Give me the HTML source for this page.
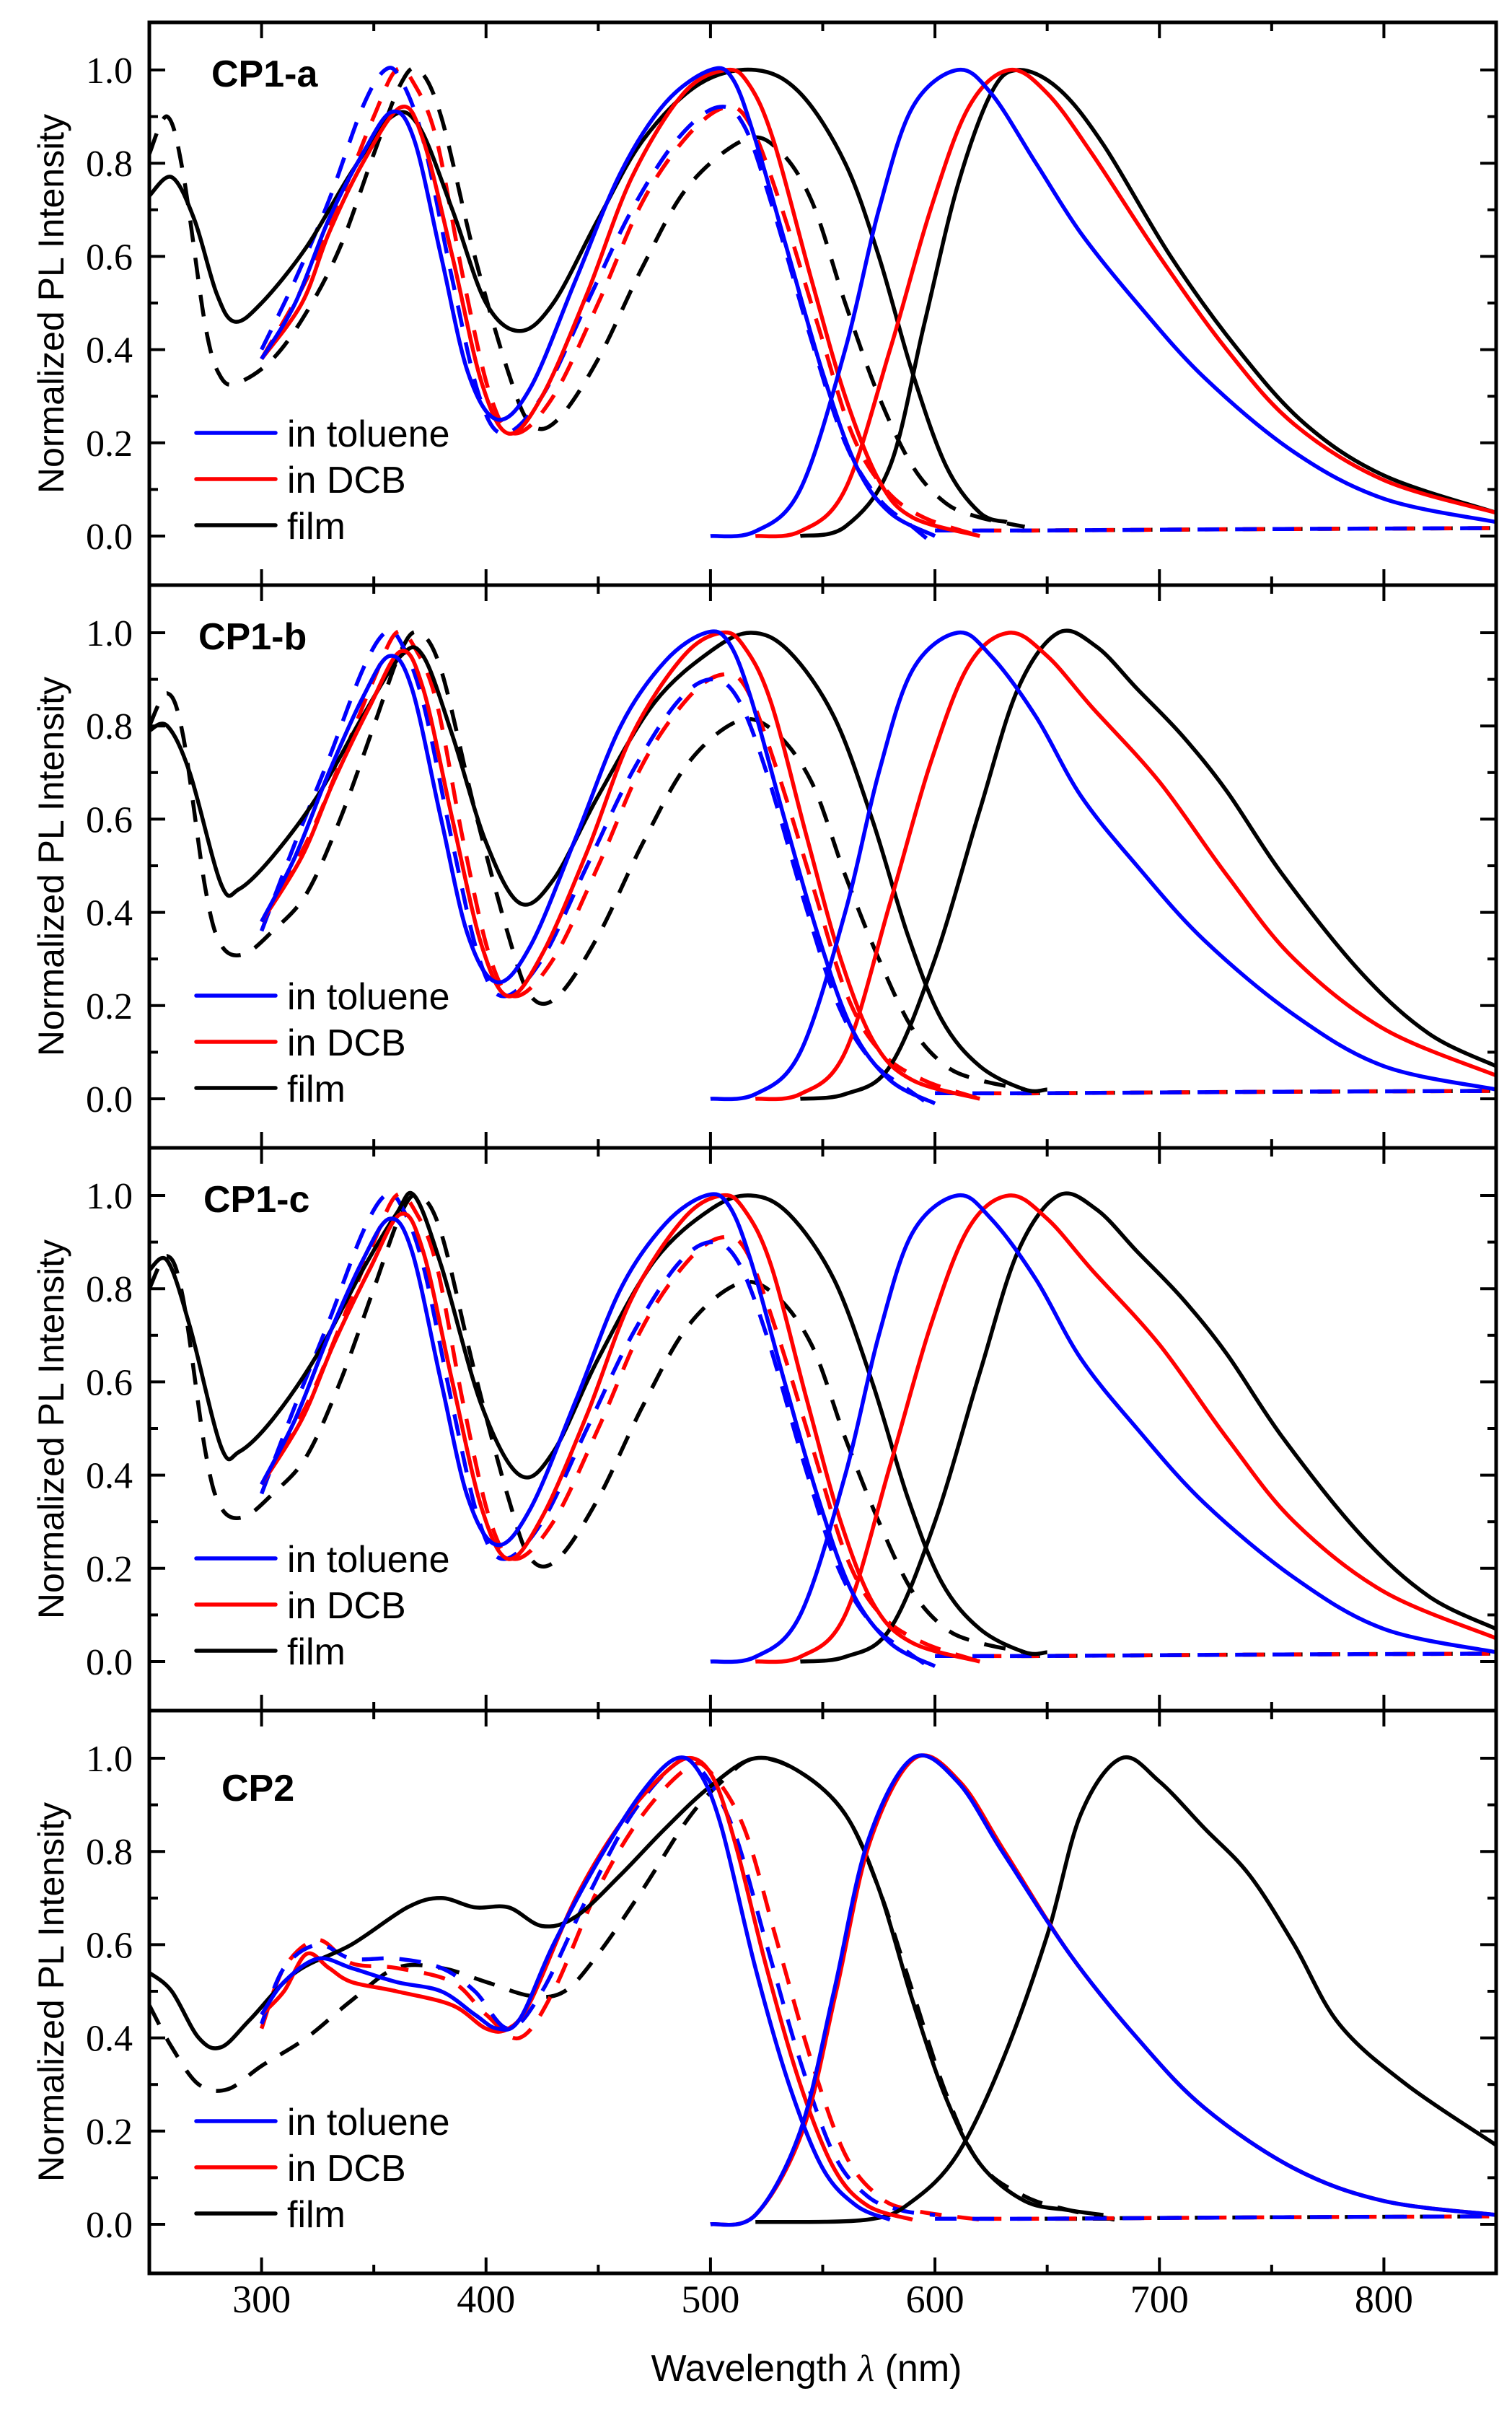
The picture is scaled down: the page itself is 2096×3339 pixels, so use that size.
<!DOCTYPE html>
<html><head><meta charset="utf-8"><style>
html,body{margin:0;padding:0;background:#fff;}
svg{display:block;}
</style></head><body>
<svg id="s" width="2096" height="3339" xmlns="http://www.w3.org/2000/svg"></svg>
<script>
const S=document.getElementById('s');
const L=207,R=2074,T0=31,PH=780;
const X=l=>L+(l-250)*(R-L)/600;
function pth(pts,top){const p=pts.map(a=>[X(a[0]),top+712-646*a[1]]);
 let d='M'+p[0][0].toFixed(1)+' '+p[0][1].toFixed(1);
 for(let i=0;i<p.length-1;i++){const a=p[i-1]||p[i],b=p[i],c=p[i+1],e=p[i+2]||c;
  d+=' C'+(b[0]+(c[0]-a[0])/6).toFixed(1)+' '+(b[1]+(c[1]-a[1])/6).toFixed(1)+' '+(c[0]-(e[0]-b[0])/6).toFixed(1)+' '+(c[1]-(e[1]-b[1])/6).toFixed(1)+' '+c[0].toFixed(1)+' '+c[1].toFixed(1);}
 return d;}
let h='';
const col={b:'#0000ff',r:'#ff0000',k:'#000000'};
function line(pts,top,c,dash,clip){h+=`<path d="${pth(pts,top)}" fill="none" stroke="${col[c]}" stroke-width="5.5" ${dash?'stroke-dasharray="30 22"':''} clip-path="url(#${clip})" stroke-linejoin="round"/>`;}
const tail=(s,v)=>[[s,v],[650,v],[750,v+0.003],[850,v+0.005]];
const panels=[
{name:'CP1-a',ly:89,lx:293,
 abs:{b:[[300,0.38],[315,0.5],[330,0.68],[345,0.82],[358,0.91],[368,0.85],[380,0.6],[392,0.35],[405,0.25],[420,0.32],[440,0.55],[460,0.78],[480,0.93],[500,1.0],[510,0.98],[520,0.85],[535,0.6],[550,0.35],[565,0.15],[580,0.05],[600,0.0]],
  r:[[300,0.38],[318,0.5],[330,0.65],[345,0.8],[362,0.92],[372,0.85],[385,0.6],[398,0.33],[410,0.22],[425,0.3],[445,0.52],[465,0.77],[488,0.95],[507,1.0],[517,0.97],[528,0.85],[545,0.55],[560,0.3],[575,0.12],[590,0.04],[620,0.0]],
  k:[[250,0.73],[260,0.77],[270,0.68],[280,0.52],[288,0.46],[300,0.5],[320,0.62],[340,0.78],[358,0.9],[370,0.88],[385,0.7],[400,0.5],[415,0.44],[430,0.5],[450,0.68],[470,0.85],[495,0.97],[520,1.0],[540,0.95],[560,0.8],[575,0.6],[590,0.35],[605,0.15],[620,0.05],[632,0.03]]},
 dsh:{b:[[300,0.4],[315,0.55],[330,0.72],[345,0.92],[355,1.0],[362,0.98],[372,0.85],[385,0.55],[397,0.3],[408,0.22],[425,0.3],[445,0.5],[465,0.7],[485,0.85],[503,0.92],[515,0.88],[528,0.7],[545,0.42],[560,0.2],[575,0.08],[590,0.02],[600,-0.02]],
  r:[[300,0.38],[320,0.55],[335,0.72],[350,0.9],[360,1.0],[368,0.97],[378,0.85],[390,0.55],[402,0.3],[413,0.22],[430,0.3],[450,0.5],[470,0.72],[490,0.86],[507,0.92],[518,0.88],[532,0.7],[548,0.45],[563,0.22],[578,0.1],[595,0.04],[620,0.0]],
  k:[[250,0.82],[258,0.9],[265,0.78],[275,0.45],[282,0.34],[290,0.33],[305,0.38],[320,0.48],[335,0.62],[350,0.82],[362,0.97],[370,1.0],[380,0.9],[395,0.6],[410,0.35],[420,0.24],[432,0.25],[450,0.38],[470,0.58],[490,0.75],[515,0.85],[530,0.83],[545,0.72],[560,0.5],[575,0.3],[590,0.15],[605,0.07],[620,0.04],[640,0.02]]},
 em:{b:[[500,0],[520,0.01],[540,0.1],[560,0.4],[575,0.7],[590,0.92],[610,1.0],[625,0.95],[645,0.8],[665,0.65],[690,0.5],[720,0.34],[760,0.18],[800,0.08],[850,0.03]],
  r:[[520,0],[540,0.01],[560,0.1],[580,0.4],[598,0.7],[615,0.92],[633,1.0],[650,0.95],[670,0.82],[700,0.6],[730,0.4],[760,0.24],[800,0.12],[850,0.05]],
  k:[[540,0],[560,0.02],[580,0.15],[595,0.45],[610,0.75],[625,0.95],[637,1.0],[655,0.96],[675,0.84],[705,0.6],[735,0.4],[765,0.24],[800,0.13],[850,0.05]]}},
{name:'CP1-b',ly:89,lx:275,
 abs:{b:[[300,0.38],[315,0.52],[330,0.7],[345,0.86],[357,0.95],[367,0.88],[380,0.6],[392,0.35],[405,0.25],[420,0.33],[440,0.56],[460,0.8],[480,0.94],[498,1.0],[508,0.98],[518,0.86],[533,0.6],[548,0.35],[563,0.15],[580,0.04],[600,-0.01]],
  r:[[300,0.38],[318,0.52],[332,0.68],[348,0.84],[362,0.96],[372,0.88],[385,0.6],[398,0.33],[410,0.22],[425,0.31],[445,0.53],[465,0.78],[488,0.95],[505,1.0],[515,0.97],[527,0.85],[543,0.56],[558,0.3],[573,0.12],[590,0.04],[620,0.0]],
  k:[[250,0.79],[258,0.8],[268,0.7],[282,0.46],[290,0.45],[305,0.52],[325,0.65],[345,0.82],[362,0.95],[372,0.95],[385,0.78],[400,0.55],[415,0.42],[430,0.47],[450,0.65],[475,0.85],[500,0.96],[518,1.0],[535,0.96],[555,0.82],[572,0.6],[588,0.35],[603,0.17],[620,0.07],[640,0.02],[650,0.02]]},
 dsh:{b:[[300,0.36],[315,0.55],[330,0.73],[345,0.92],[355,1.0],[362,0.98],[372,0.85],[385,0.55],[397,0.3],[408,0.22],[425,0.3],[445,0.5],[465,0.7],[485,0.85],[500,0.9],[512,0.86],[525,0.7],[542,0.42],[557,0.2],[572,0.08],[588,0.02],[600,-0.02]],
  r:[[300,0.38],[320,0.55],[335,0.72],[350,0.9],[360,1.0],[368,0.97],[378,0.85],[390,0.55],[402,0.3],[413,0.22],[430,0.3],[450,0.5],[470,0.72],[490,0.86],[505,0.91],[516,0.88],[530,0.7],[546,0.45],[561,0.22],[576,0.1],[595,0.04],[620,0.0]],
  k:[[250,0.8],[258,0.87],[265,0.78],[275,0.45],[282,0.33],[292,0.31],[305,0.36],[320,0.44],[335,0.6],[350,0.8],[362,0.96],[370,1.0],[380,0.92],[395,0.62],[410,0.35],[420,0.22],[432,0.22],[450,0.35],[470,0.55],[490,0.72],[512,0.81],[528,0.79],[545,0.68],[560,0.48],[575,0.3],[590,0.15],[605,0.07],[620,0.04],[640,0.02]]},
 em:{b:[[500,0],[520,0.01],[540,0.1],[560,0.4],[575,0.7],[590,0.92],[610,1.0],[625,0.95],[645,0.82],[665,0.65],[690,0.5],[720,0.34],[760,0.18],[800,0.07],[850,0.02]],
  r:[[520,0],[540,0.01],[560,0.1],[580,0.42],[598,0.72],[615,0.93],[633,1.0],[650,0.95],[670,0.84],[700,0.68],[730,0.48],[760,0.3],[800,0.15],[850,0.05]],
  k:[[540,0],[560,0.01],[580,0.07],[600,0.3],[620,0.62],[637,0.88],[655,1.0],[672,0.97],[690,0.88],[710,0.78],[730,0.66],[755,0.48],[790,0.27],[820,0.14],[850,0.07]]}},
{name:'CP1-c',ly:89,lx:282,
 abs:null,dsh:null,em:null},
{name:'CP2',ly:125,lx:307,
 abs:{b:[[300,0.45],[310,0.52],[325,0.57],[340,0.55],[360,0.52],[380,0.5],[395,0.45],[405,0.42],[415,0.44],[430,0.6],[450,0.78],[470,0.93],[485,1.0],[495,0.97],[505,0.85],[520,0.55],[535,0.3],[550,0.12],[565,0.04],[580,0.01]],
  r:[[300,0.45],[310,0.5],[320,0.58],[330,0.55],[340,0.52],[360,0.5],[385,0.47],[400,0.42],[410,0.42],[420,0.48],[440,0.7],[460,0.86],[480,0.97],[492,1.0],[502,0.95],[512,0.8],[525,0.55],[540,0.3],[555,0.12],[570,0.04],[590,0.01]],
  k:[[250,0.54],[260,0.5],[272,0.4],[282,0.38],[295,0.44],[315,0.54],[340,0.6],[365,0.68],[380,0.7],[395,0.68],[410,0.68],[425,0.64],[440,0.66],[460,0.75],[480,0.85],[500,0.94],[520,1.0],[540,0.97],[560,0.88],[575,0.72],[590,0.48],[605,0.27],[620,0.13],[640,0.05],[660,0.03],[675,0.02]]},
 dsh:{b:[[300,0.43],[310,0.55],[325,0.6],[340,0.57],[360,0.57],[380,0.55],[395,0.5],[410,0.42],[425,0.5],[445,0.7],[465,0.88],[485,0.99],[495,0.98],[510,0.85],[525,0.6],[540,0.35],[555,0.15],[570,0.06],[585,0.03],[600,0.02]],
  r:[[300,0.42],[310,0.55],[325,0.61],[340,0.56],[360,0.55],[385,0.52],[400,0.45],[415,0.4],[430,0.5],[450,0.72],[470,0.88],[490,0.98],[500,0.97],[515,0.85],[530,0.6],[545,0.35],[560,0.15],[575,0.06],[590,0.03],[620,0.01]],
  k:[[250,0.47],[260,0.38],[272,0.3],[285,0.29],[300,0.34],[320,0.4],[340,0.48],[360,0.55],[380,0.55],[400,0.52],[420,0.49],[435,0.5],[450,0.58],[470,0.72],[490,0.87],[505,0.95],[520,1.0],[540,0.97],[560,0.88],[575,0.72],[590,0.5],[605,0.28],[620,0.13],[640,0.06],[660,0.03],[680,0.01]]},
 em:{b:[[500,0],[520,0.02],[540,0.2],[555,0.5],[570,0.82],[590,1.0],[610,0.95],[630,0.8],[660,0.58],[690,0.4],[720,0.25],[760,0.12],[800,0.05],[850,0.02]],
  r:[[500,0],[520,0.02],[541,0.2],[556,0.5],[571,0.82],[591,1.0],[611,0.95],[631,0.8],[660,0.58],[690,0.4],[720,0.25],[760,0.12],[800,0.05],[850,0.02]],
  k:[[520,0.005],[570,0.01],[590,0.05],[610,0.15],[630,0.35],[650,0.62],[665,0.88],[683,1.0],[700,0.95],[720,0.85],[740,0.75],[760,0.6],[780,0.43],[810,0.3],[850,0.17]]}}
];
panels[2].dsh=JSON.parse(JSON.stringify(panels[1].dsh));
panels[2].em=JSON.parse(JSON.stringify(panels[1].em));
panels[2].abs={b:panels[1].abs.b,r:panels[1].abs.r,k:[[250,0.84],[258,0.86],[268,0.72],[282,0.46],[290,0.45],[305,0.52],[325,0.66],[345,0.84],[360,0.96],[368,1.0],[380,0.85],[398,0.55],[415,0.4],[430,0.45],[450,0.65],[475,0.86],[500,0.97],[518,1.0],[535,0.96],[555,0.82],[572,0.6],[588,0.35],[603,0.17],[620,0.07],[640,0.02],[650,0.02]]};
h+='<defs>';
panels.forEach((p,i)=>{const t=T0+PH*i;h+=`<clipPath id="c${i}"><rect x="${L}" y="${t}" width="${R-L}" height="${PH}"/></clipPath>`;});
h+='</defs>';
panels.forEach((p,i)=>{const t=T0+PH*i,c='c'+i;
 ['k','r','b'].forEach(k=>{line(p.dsh[k],t,k,true,c);const last=p.dsh[k][p.dsh[k].length-1][0];line(tail(last,0.012),t,k,true,c);});
 ['k','r','b'].forEach(k=>{line(p.abs[k],t,k,false,c);line(p.em[k],t,k,false,c);});
 for(let v=0;v<=1.001;v+=0.1){const y=t+712-646*v,maj=Math.round(v*10)%2==0,len=maj?22:12;
  h+=`<line x1="${L}" y1="${y}" x2="${L+len}" y2="${y}" stroke="#000" stroke-width="4"/><line x1="${R}" y1="${y}" x2="${R-len}" y2="${y}" stroke="#000" stroke-width="4"/>`;
  if(maj)h+=`<text x="184" y="${y+18}" text-anchor="end" font-family="Liberation Serif,serif" font-size="52">${v.toFixed(1)}</text>`;}
 for(let l=250;l<=850;l+=50){const x=X(l),maj=l%100==0,len=maj?22:12;
  h+=`<line x1="${x}" y1="${t}" x2="${x}" y2="${t+len}" stroke="#000" stroke-width="4"/><line x1="${x}" y1="${t+PH}" x2="${x}" y2="${t+PH-len}" stroke="#000" stroke-width="4"/>`;}
 h+=`<rect x="${L}" y="${t}" width="${R-L}" height="${PH}" fill="none" stroke="#000" stroke-width="5"/>`;
 h+=`<text x="${p.lx}" y="${t+p.ly}" font-family="Liberation Sans,sans-serif" font-weight="bold" font-size="52">${p.name}</text>`;
 const names=[['b','in toluene'],['r','in DCB'],['k','film']];
 names.forEach((n,j)=>{const by=t+588+64*j;
  h+=`<line x1="272" y1="${by-19}" x2="382" y2="${by-19}" stroke="${col[n[0]]}" stroke-width="5.5" stroke-linecap="round"/><text x="398" y="${by}" font-family="Liberation Sans,sans-serif" font-size="52">${n[1]}</text>`;});
 h+=`<text transform="translate(88,${t+PH/2}) rotate(-90)" text-anchor="middle" font-family="Liberation Sans,sans-serif" font-size="50">Normalized PL Intensity</text>`;
});
for(let l=300;l<=800;l+=100)h+=`<text x="${X(l)}" y="3205" text-anchor="middle" font-family="Liberation Serif,serif" font-size="54">${l}</text>`;
h+=`<text x="1118" y="3300" text-anchor="middle" font-family="Liberation Sans,sans-serif" font-size="52">Wavelength <tspan font-family="Liberation Serif,serif" font-style="italic">λ</tspan> (nm)</text>`;
S.innerHTML=h;
</script>
</body></html>
